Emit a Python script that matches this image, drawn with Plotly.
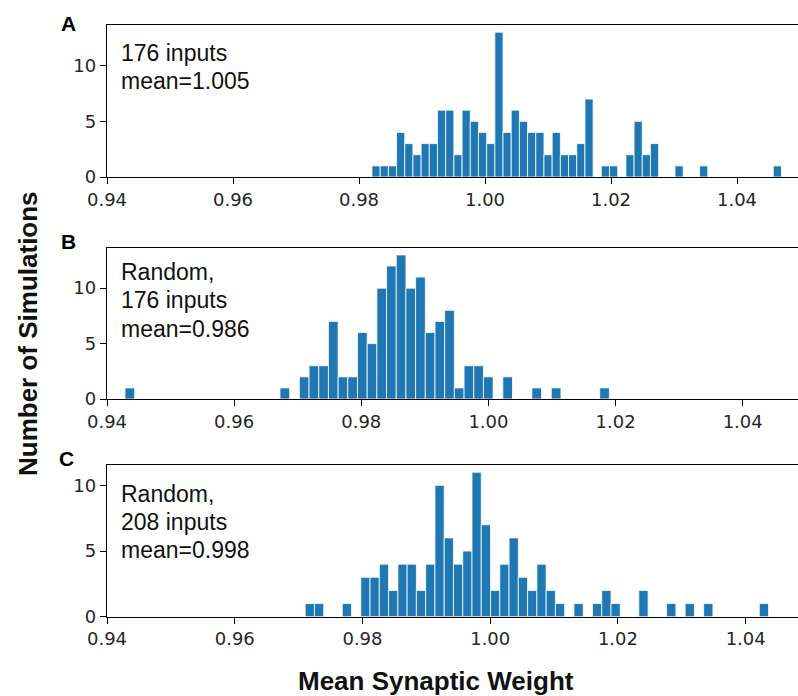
import plotly.graph_objects as go

# ---- histogram data: 50 equal-width bins per panel ----
# Panel A: 176 inputs
A_BIN_START = 0.98206
A_BIN_WIDTH = 0.0013
A_COUNTS = [1, 1, 1, 4, 3, 2, 3, 3, 6, 6,
            2, 6, 5, 4, 3, 13, 4, 6, 5, 4,
            4, 2, 4, 2, 2, 3, 7, 0, 1, 1,
            0, 2, 5, 2, 3, 0, 0, 1, 0, 0,
            1, 0, 0, 0, 0, 0, 0, 0, 0, 1]

# Panel B: random, 176 inputs
B_BIN_START = 0.94283
B_BIN_WIDTH = 0.001524
B_COUNTS = [1, 0, 0, 0, 0, 0, 0, 0, 0, 0,
            0, 0, 0, 0, 0, 0, 1, 0, 2, 3,
            3, 7, 2, 2, 6, 5, 10, 12, 13, 10,
            11, 6, 7, 8, 1, 3, 3, 2, 0, 2,
            0, 0, 1, 0, 1, 0, 0, 0, 0, 1]

# Panel C: random, 208 inputs
C_BIN_START = 0.97103
C_BIN_WIDTH = 0.001451
C_COUNTS = [1, 1, 0, 0, 1, 0, 3, 3, 4, 2,
            4, 4, 2, 4, 10, 6, 4, 5, 11, 7,
            2, 4, 6, 3, 2, 4, 2, 1, 0, 1,
            0, 1, 2, 1, 0, 0, 2, 0, 0, 1,
            0, 1, 0, 1, 0, 0, 0, 0, 0, 1]

PANEL_LABELS = ["A", "B", "C"]
PANEL_TEXT = [["176 inputs", "mean=1.005"],
              ["Random,", "176 inputs", "mean=0.986"],
              ["Random,", "208 inputs", "mean=0.998"]]
X_TICKS = [0.94, 0.96, 0.98, 1.00, 1.02, 1.04]
Y_TICKS = [0, 5, 10]
X_TITLE = "Mean Synaptic Weight"
Y_TITLE = "Number of Simulations"

# ---- layout geometry (pixels) ----
W, H = 798, 696
PLOT_LEFT = 107
# (top, bottom) of each panel's frame
PANEL_BOX = [(25, 177), (247.7, 399), (465, 616.7)]
X_MAX = [1.04968, 1.0487, 1.04819]
Y_MAX = [13.65, 13.65, 11.55]
TEXT_BASE = [[61, 89.3], [280, 308.3, 336.7], [501.7, 530, 558.3]]
LETTER_POS = [(68, 24), (68, 242), (66, 459)]

BAR_COLOR = "#1f77b4"
TICK_FONT = dict(family="DejaVu Sans", size=18, color="#262626")
TEXT_FONT = dict(family="Liberation Sans, Arial", size=23, color="#111111")
BOLD_FONT = dict(family="Liberation Sans, Arial", size=26, color="#111111")


def px_x(px):
    return px / W


def px_y(py):
    return 1 - py / H


fig = go.Figure()

panels = [(A_BIN_START, A_BIN_WIDTH, A_COUNTS),
          (B_BIN_START, B_BIN_WIDTH, B_COUNTS),
          (C_BIN_START, C_BIN_WIDTH, C_COUNTS)]

for i, (start, width, counts) in enumerate(panels):
    centers = [start + (k + 0.5) * width for k in range(len(counts))]
    suffix = "" if i == 0 else str(i + 1)
    fig.add_trace(go.Bar(
        x=centers, y=counts, width=[width] * len(counts),
        marker=dict(color=BAR_COLOR, line=dict(color="white", width=0.8)),
        xaxis="x" + suffix, yaxis="y" + suffix,
        showlegend=False, hoverinfo="x+y",
    ))
    top, bottom = PANEL_BOX[i]
    fig.layout["xaxis" + suffix] = dict(
        domain=[px_x(PLOT_LEFT), 1], anchor="y" + suffix,
        range=[0.94, X_MAX[i]], tickvals=X_TICKS, tickformat=".2f",
        showline=True, linecolor="black", linewidth=1.3, mirror=True,
        ticks="outside", ticklen=6, tickwidth=1.3, tickcolor="black",
        showgrid=False, zeroline=False, tickfont=TICK_FONT,
        automargin=False,
    )
    fig.layout["yaxis" + suffix] = dict(
        domain=[px_y(bottom), px_y(top)], anchor="x" + suffix,
        range=[0, Y_MAX[i]], tickvals=Y_TICKS,
        showline=True, linecolor="black", linewidth=1.3, mirror=False,
        ticks="outside", ticklen=6, tickwidth=1.3, tickcolor="black",
        showgrid=False, zeroline=False, tickfont=TICK_FONT,
        automargin=False,
    )

annotations = []
for i in range(3):
    for line, base in zip(PANEL_TEXT[i], TEXT_BASE[i]):
        annotations.append(dict(
            text=line, xref="paper", yref="paper",
            x=px_x(119), y=px_y(base - 8), xanchor="left", yanchor="middle",
            showarrow=False, font=TEXT_FONT,
        ))
    lx, ly = LETTER_POS[i]
    annotations.append(dict(
        text="<b>%s</b>" % PANEL_LABELS[i], xref="paper", yref="paper",
        x=px_x(lx), y=px_y(ly), xanchor="center", yanchor="middle",
        showarrow=False, font=dict(family="Liberation Sans, Arial", size=21, color="black"),
    ))

annotations.append(dict(
    text="<b>%s</b>" % Y_TITLE, xref="paper", yref="paper",
    x=px_x(28), y=px_y(334), xanchor="center", yanchor="middle",
    textangle=-90, showarrow=False, font=BOLD_FONT,
))
annotations.append(dict(
    text="<b>%s</b>" % X_TITLE, xref="paper", yref="paper",
    x=px_x(436), y=px_y(681), xanchor="center", yanchor="middle",
    showarrow=False, font=BOLD_FONT,
))

fig.update_layout(
    width=W, height=H,
    margin=dict(l=0, r=0, t=0, b=0, autoexpand=False),
    paper_bgcolor="white", plot_bgcolor="white",
    annotations=annotations,
)

fig.write_html("out.html")
